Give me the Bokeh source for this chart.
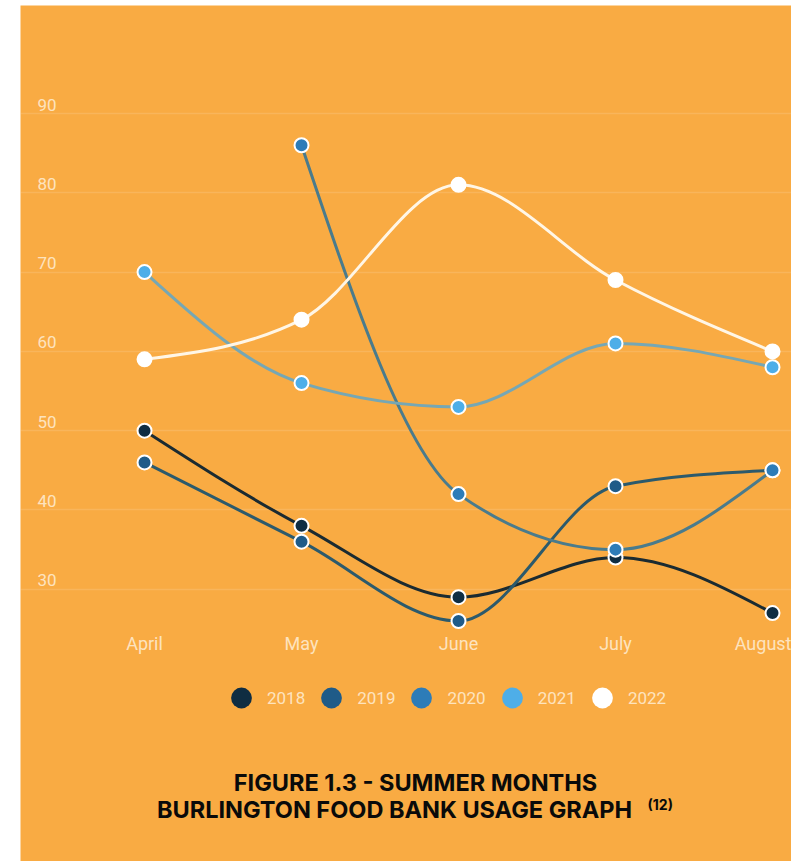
from bokeh.plotting import figure
from bokeh.models import (ColumnDataSource, FixedTicker, Grid, LabelSet, Label,
                          Legend, LegendItem, Range1d, LinearAxis)
from bokeh.core.properties import value
from bokeh.embed import file_html
from bokeh.resources import INLINE

# ---------------- data ----------------
months = ["April", "May", "June", "July", "August"]
years = ["2018", "2019", "2020", "2021", "2022"]
v2018 = [50, 38, 29, 34, 27]
v2019 = [46, 36, 26, 43, 45]
v2020 = [None, 86, 42, 35, 45]
v2021 = [70, 56, 53, 61, 58]
v2022 = [59, 64, 81, 69, 60]
y_ticks = [30, 40, 50, 60, 70, 80, 90]

series = [v2018, v2019, v2020, v2021, v2022]
point_colors = ["#0f2d42", "#1f5b88", "#2d7cb8", "#4eaee8", "#ffffff"]
line_colors = ["#1b2b31", "#2c5a6c", "#4a7b8c", "#76a7b4", "#fff6e6"]
BG = "#f9ab43"
TXT = "#fff3e0"

x_idx = list(range(len(months)))


def monotone_bezier(xs, ys):
    """Bezier segments of a monotone cubic curve (same as d3.curveMonotoneX)."""
    pts = [(x, y) for x, y in zip(xs, ys) if y is not None]
    px = [a for a, _ in pts]
    py = [b for _, b in pts]
    n = len(px)
    h = [px[i + 1] - px[i] for i in range(n - 1)]
    s = [(py[i + 1] - py[i]) / h[i] for i in range(n - 1)]
    sg = lambda v: -1 if v < 0 else 1
    t = [0.0] * n
    for i in range(1, n - 1):
        pp = (s[i - 1] * h[i] + s[i] * h[i - 1]) / (h[i - 1] + h[i])
        t[i] = (sg(s[i - 1]) + sg(s[i])) * min(abs(s[i - 1]), abs(s[i]), 0.5 * abs(pp))
    if n > 2:
        t[0] = (3 * s[0] - t[1]) / 2
        t[-1] = (3 * s[-1] - t[-2]) / 2
    else:
        t[0] = t[-1] = s[0]
    d = dict(x0=[], y0=[], x1=[], y1=[], cx0=[], cy0=[], cx1=[], cy1=[])
    for i in range(n - 1):
        d["x0"].append(px[i]); d["y0"].append(py[i])
        d["x1"].append(px[i + 1]); d["y1"].append(py[i + 1])
        d["cx0"].append(px[i] + h[i] / 3); d["cy0"].append(py[i] + h[i] * t[i] / 3)
        d["cx1"].append(px[i + 1] - h[i] / 3); d["cy1"].append(py[i + 1] - h[i] * t[i + 1] / 3)
    return d


p = figure(width=771, height=856,
           x_range=Range1d(-0.79, 4.121), y_range=Range1d(-4.33, 103.62),
           x_axis_location=None, y_axis_location=None,
           output_backend="svg", toolbar_location=None,
           min_border_left=0, min_border_right=0, min_border_top=0, min_border_bottom=0,
           background_fill_color=BG, border_fill_color=BG, outline_line_color=None,
           margin=(5, 0, 0, 20))

# drop default grids, keep only horizontal lines at the y ticks
p.center = [r for r in p.center if not isinstance(r, Grid)]
p.add_layout(Grid(dimension=1, ticker=FixedTicker(ticks=y_ticks),
                  grid_line_color="#ffffff", grid_line_alpha=0.13, grid_line_width=1.5))

# x axis drawn inside the frame, just under the lowest grid line
xaxis = LinearAxis(ticker=FixedTicker(ticks=x_idx), fixed_location=25.43,
                   major_label_overrides={i: m for i, m in zip(x_idx, months)},
                   axis_line_color=None, major_tick_line_color=None,
                   minor_tick_line_color=None, major_tick_out=0, major_tick_in=0,
                   major_label_standoff=7, major_label_text_color=TXT,
                   major_label_text_alpha=0.8, major_label_text_font="Roboto",
                   major_label_text_font_size="18px")
p.add_layout(xaxis, "below")

# y labels sitting above the grid lines
ylab_src = ColumnDataSource(dict(y=y_ticks, text=[str(v) for v in y_ticks]))
p.add_layout(LabelSet(x=17, y="y", x_units="screen", text="text", source=ylab_src,
                      text_align="left", text_baseline="middle", y_offset=9,
                      text_color=TXT, text_alpha=0.8, text_font=value("Roboto"),
                      text_font_size="17px"))

# lines
for vals, c in zip(series, line_colors):
    src = ColumnDataSource(monotone_bezier(x_idx, vals))
    p.bezier(x0="x0", y0="y0", x1="x1", y1="y1", cx0="cx0", cy0="cy0",
             cx1="cx1", cy1="cy1", source=src, line_color=c, line_width=3)

# points + legend proxies
items = []
for yr, vals, c in zip(years, series, point_colors):
    yv = [float("nan") if v is None else v for v in vals]
    p.scatter(x_idx, yv, size=14, fill_color=c, line_color="#ffffff", line_width=2)
    proxy = p.scatter(x_idx, yv, size=22, fill_color=c, line_color=None, visible=False)
    items.append(LegendItem(label=yr, renderers=[proxy]))

legend = Legend(items=items, location=(195, 136), orientation="horizontal",
                glyph_width=52, glyph_height=55, label_standoff=0, spacing=0,
                label_width=37, padding=10, margin=0,
                border_line_color=None, background_fill_alpha=0,
                label_text_color=TXT, label_text_alpha=0.8, label_text_font="Roboto",
                label_text_font_size="17px")
p.add_layout(legend)

# caption
for txt, cx, by in [("FIGURE 1.3 - SUMMER MONTHS", 395, 79),
                    ("BURLINGTON FOOD BANK USAGE GRAPH", 374, 52)]:
    p.add_layout(Label(x=cx, y=by, x_units="screen", y_units="screen", text=txt,
                       text_align="center", text_baseline="middle",
                       text_color="#0a0a0a", text_font="Inter",
                       text_font_style="bold", text_font_size="23.5px"))
p.add_layout(Label(x=627, y=57, x_units="screen", y_units="screen", text="(12)",
                   text_align="left", text_baseline="middle",
                   text_color="#0a0a0a", text_font="Inter",
                   text_font_style="bold", text_font_size="14px"))

open("out.html", "w").write(file_html(p, INLINE))
